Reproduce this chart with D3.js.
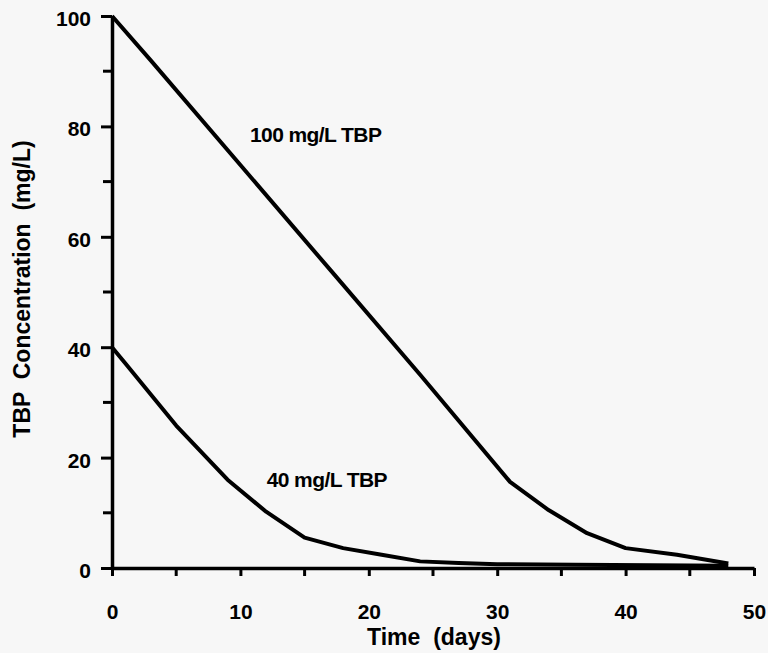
<!DOCTYPE html>
<html lang="en">
<head>
  <meta charset="UTF-8">
  <title>TBP concentration vs time</title>
  <script src="https://cdn.jsdelivr.net/npm/d3@7"></script>
  <style>
    html, body { margin: 0; padding: 0; background: #f7f7f7; }
    svg { display: block; font-family: "Liberation Sans", Arial, sans-serif; }
  </style>
</head>
<body>
<script>
  // values
  const days100 = [0, 3, 10, 17, 24, 31, 34, 37, 40, 44, 48];
  const conc100 = [100, 92, 73, 54, 35, 15.6, 10.5, 6.3, 3.6, 2.4, 0.8];

  const days40 = [0, 1, 5, 9, 12, 15, 18, 21, 24, 27, 30, 36, 42, 48];
  const conc40 = [40, 37.2, 25.8, 16, 10.2, 5.5, 3.6, 2.4, 1.2, 0.9, 0.7, 0.6, 0.5, 0.4];

  const xTicks = [0, 10, 20, 30, 40, 50];
  const yTicks = [0, 20, 40, 60, 80, 100];
  const xMinor = [5, 15, 25, 35, 45];
  const yMinor = [10, 30, 50, 70, 90];

  const labels = ["100 mg/L TBP", "40 mg/L TBP"];
  const labelDay = [10.75, 12.05];
  const labelConc = [77.2, 14.7];

  const width = 768, height = 653;
  const x = d3.scaleLinear().domain([0, 50]).range([112, 754]);
  const y = d3.scaleLinear().domain([0, 100]).range([568, 16]);

  const svg = d3.select("body").append("svg")
    .attr("width", width)
    .attr("height", height);

  // minor ticks
  svg.selectAll(".xminor").data(xMinor).enter().append("line")
    .attr("x1", d => x(d)).attr("x2", d => x(d))
    .attr("y1", y(0)).attr("y2", y(0) + 8)
    .attr("stroke", "#000").attr("stroke-width", 3);
  svg.selectAll(".yminor").data(yMinor).enter().append("line")
    .attr("y1", d => y(d)).attr("y2", d => y(d))
    .attr("x1", x(0) - 9).attr("x2", x(0))
    .attr("stroke", "#000").attr("stroke-width", 3);

  // x axis
  const xAxis = svg.append("g")
    .attr("transform", `translate(0,${y(0)})`)
    .call(d3.axisBottom(x).tickValues(xTicks).tickSize(8).tickPadding(28).tickSizeOuter(0));
  // y axis
  const yAxis = svg.append("g")
    .attr("transform", `translate(${x(0)},0)`)
    .call(d3.axisLeft(y).tickValues(yTicks).tickSize(11).tickPadding(10).tickSizeOuter(0));

  [xAxis, yAxis].forEach(g => {
    g.select(".domain").attr("stroke", "#000").attr("stroke-width", 3.5);
    g.selectAll(".tick line").attr("stroke", "#000").attr("stroke-width", 3);
    g.selectAll(".tick text")
      .attr("fill", "#000")
      .style("font-size", "21px")
      .style("font-weight", "bold")
      .style("font-family", "'Liberation Sans', Arial, sans-serif");
  });
  yAxis.selectAll(".tick text").attr("dy", "0.45em");

  // data lines
  const line = d3.line().x(d => x(d[0])).y(d => y(d[1]));
  const series = [
    d3.zip(days100, conc100),
    d3.zip(days40, conc40)
  ];
  svg.selectAll(".series").data(series).enter().append("path")
    .attr("class", "series")
    .attr("d", line)
    .attr("fill", "none")
    .attr("stroke", "#000")
    .attr("stroke-width", 4)
    .attr("stroke-linejoin", "round");

  // curve labels
  svg.selectAll(".lbl").data(labels).enter().append("text")
    .attr("x", (d, i) => x(labelDay[i]))
    .attr("y", (d, i) => y(labelConc[i]))
    .attr("font-size", 21)
    .attr("font-weight", "bold")
    .attr("letter-spacing", "-0.6")
    .attr("fill", "#000")
    .text(d => d);

  // axis titles
  svg.append("text")
    .attr("x", 434).attr("y", 645)
    .attr("text-anchor", "middle")
    .attr("font-size", 23)
    .attr("font-weight", "bold")
    .attr("xml:space", "preserve")
    .style("white-space", "pre")
    .text("Time  (days)");

  svg.append("text")
    .attr("transform", "translate(30,289) rotate(-90)")
    .attr("text-anchor", "middle")
    .attr("font-size", 23)
    .attr("font-weight", "bold")
    .style("white-space", "pre")
    .text("TBP  Concentration  (mg/L)");
</script>
</body>
</html>
